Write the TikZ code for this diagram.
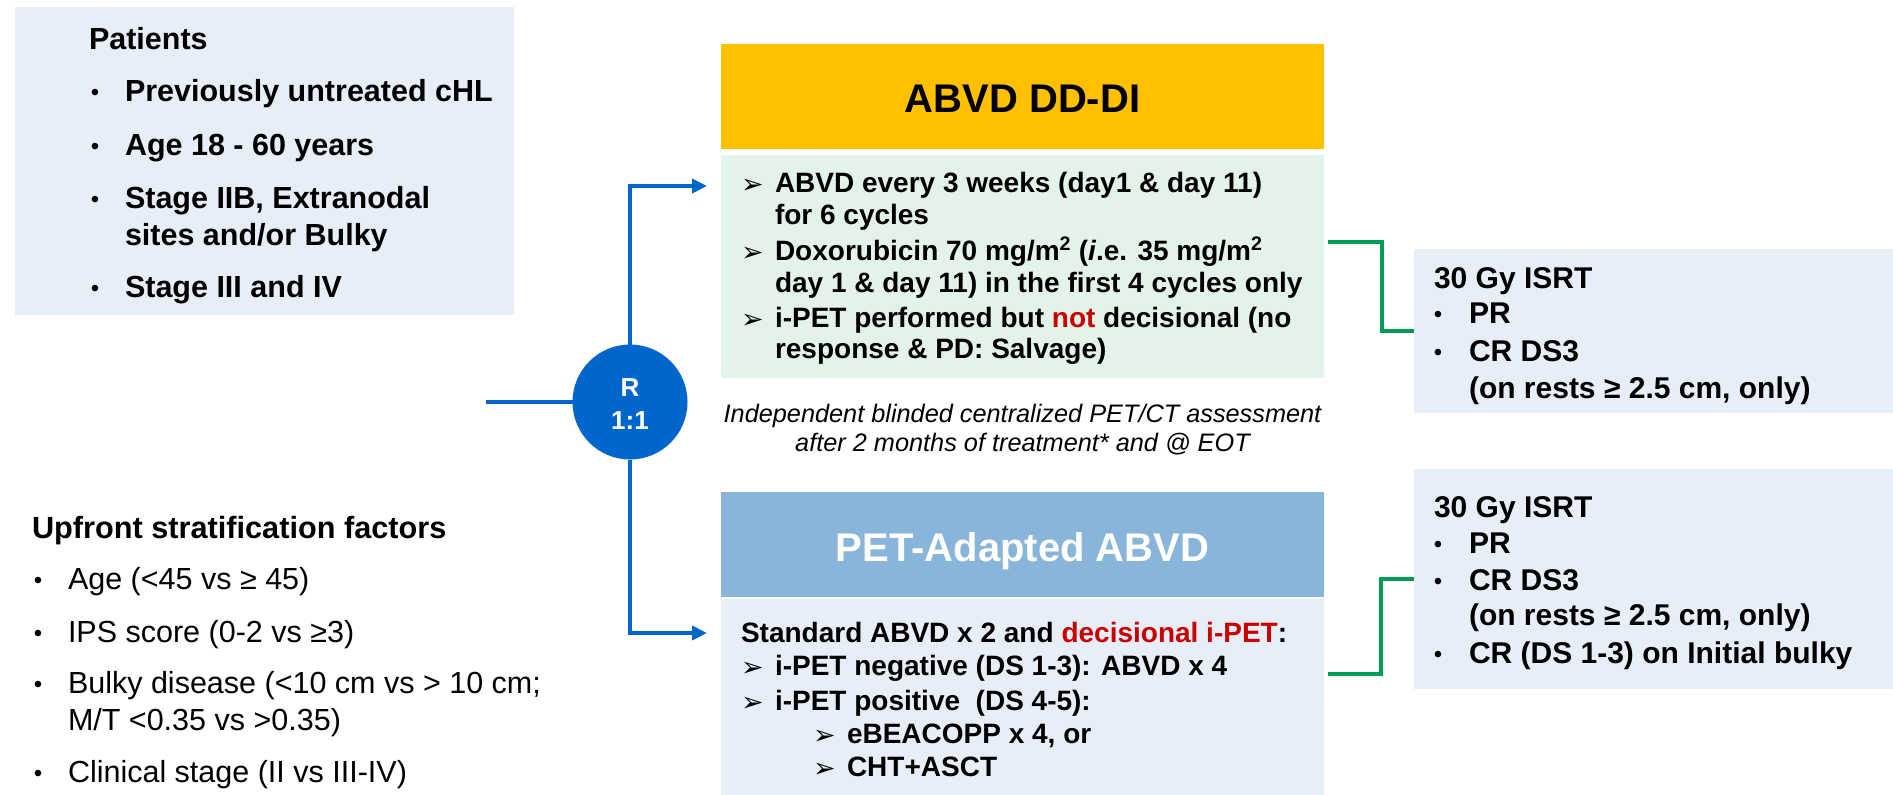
\documentclass[tikz,border=0pt]{standalone}
\usepackage{fontspec}
\setmainfont{Liberation Sans}
\newfontfamily\djv{DejaVu Sans}
\usetikzlibrary{arrows.meta}
\definecolor{boxblue}{RGB}{231,238,247}
\definecolor{greenbox}{RGB}{228,243,234}
\definecolor{orangebox}{RGB}{255,192,0}
\definecolor{pethead}{RGB}{136,181,217}
\definecolor{rblue}{RGB}{0,102,204}
\definecolor{tred}{RGB}{200,0,0}
\definecolor{lgreen}{RGB}{0,155,85}
\newcommand\fP{\fontsize{30.5}{36}\selectfont\bfseries}
\newcommand\fT{\fontsize{40}{48}\selectfont\bfseries}
\newcommand\fG{\fontsize{28}{33}\selectfont\bfseries}
\newcommand\fI{\fontsize{25.3}{30}\selectfont\itshape}
\newcommand\fS{\fontsize{30}{36}\selectfont\bfseries}
\newcommand\fU{\fontsize{30.7}{36}\selectfont\bfseries}
\newcommand\fV{\fontsize{30.5}{36}\selectfont}
\newcommand\fB{\fontsize{24}{30}\selectfont}
\newcommand\fR{\fontsize{26}{32}\selectfont\bfseries}
\newcommand\fArr{\fontsize{27}{30}\selectfont\djv}
\begin{document}
\begin{tikzpicture}[x=1pt,y=-1pt,
  boxn/.style={draw=none,inner sep=0pt,outer sep=0pt,anchor=north west},
  ln/.style={anchor=base west,inner sep=0pt,outer sep=0pt},
  ctr/.style={anchor=base,inner sep=0pt,outer sep=0pt},
  bul/.style={anchor=base,inner sep=0pt,outer sep=0pt,font=\fB},
  arr/.style={anchor=base west,inner sep=0pt,outer sep=0pt,font=\fArr},
  bl/.style={draw=rblue,line width=4pt,-{Triangle[length=15pt,width=14pt]}},
  bl0/.style={draw=rblue,line width=4pt},
  gl/.style={draw=lgreen,line width=4pt},
]
\useasboundingbox[fill=white] (0,0) rectangle (1893,795);

% ---------- boxes ----------
\node[boxn,fill=boxblue,minimum width=499pt,minimum height=308pt] (pat) at (15,7) {};
\node[boxn,fill=orangebox,minimum width=603pt,minimum height=105pt] (abvd) at (721,44) {};
\node[boxn,fill=greenbox,minimum width=603pt,minimum height=223pt] (green) at (721,155) {};
\node[boxn,fill=pethead,minimum width=603pt,minimum height=105pt] (pethd) at (721,492) {};
\node[boxn,fill=boxblue,minimum width=603pt,minimum height=196pt] (petbody) at (721,599) {};
\node[boxn,fill=boxblue,minimum width=479pt,minimum height=164pt] (rb1) at (1414,249) {};
\node[boxn,fill=boxblue,minimum width=479pt,minimum height=220pt] (rb2) at (1414,469) {};
\node[circle,fill=rblue,minimum size=115pt,inner sep=0pt,outer sep=0pt] (R) at (630,402) {};

% ---------- patients ----------
\node[ln,font=\fP] (pt0) at (89,49) {Patients};
\node[bul] (pb1) at (95,100) {•};
\node[bul] (pb2) at (95,154) {•};
\node[bul] (pb3) at (95,207) {•};
\node[bul] (pb4) at (95,296) {•};
\node[ln,font=\fP] (p1) at (125,101) {Previously untreated cHL};
\node[ln,font=\fP] (p2) at (125,155) {Age 18 - 60 years};
\node[ln,font=\fP] (p3) at (125,208) {Stage IIB, Extranodal};
\node[ln,font=\fP] (p3b) at (125,245) {sites and/or Bulky};
\node[ln,font=\fP] (p4) at (125,297) {Stage III and IV};

% ---------- stratification ----------
\node[ln,font=\fU] (s0) at (32,538) {Upfront stratification factors};
\node[bul] (sb1) at (38,588) {•};
\node[bul] (sb2) at (38,641) {•};
\node[bul] (sb3) at (38,692) {•};
\node[bul] (sb4) at (38,781) {•};
\node[ln,font=\fV] (s1) at (68,589) {Age (<45 vs ≥ 45)};
\node[ln,font=\fV] (s2) at (68,642) {IPS score (0-2 vs ≥3)};
\node[ln,font=\fV] (s3) at (68,693) {Bulky disease (<10 cm vs > 10 cm;};
\node[ln,font=\fV] (s3b) at (68,730) {M/T <0.35 vs >0.35)};
\node[ln,font=\fV] (s4) at (68,782) {Clinical stage (II vs III-IV)};

% ---------- R circle ----------
\node[ctr,font=\fR,text=white] (Rt1) at (630,396) {R};
\node[ctr,font=\fR,text=white] (Rt2) at (630,429) {1:1};

% ---------- ABVD DD-DI ----------
\node[ctr,font=\fT] (abvdt) at (1022.5,112) {ABVD DD-DI};
\node[arr] (ga1) at (741,193) {➢};
\node[arr] (ga2) at (741,261) {➢};
\node[arr] (ga3) at (741,328) {➢};
\node[ln,font=\fG] (g1) at (775,192) {ABVD every 3 weeks (day1 \& day 11)};
\node[ln,font=\fG] (g2) at (775,224) {for 6 cycles};
\node[ln,font=\fG] (g3) at (775,260) {Doxorubicin 70 mg/m\textsuperscript{2} (\textit{i}.e. 35 mg/m\textsuperscript{2}};
\node[ln,font=\fG] (g4) at (775,292) {day 1 \& day 11) in the first 4 cycles only};
\node[ln,font=\fG] (g5) at (775,327) {i-PET performed but \textcolor{tred}{not} decisional (no};
\node[ln,font=\fG] (g6) at (775,358) {response \& PD: Salvage)};

% ---------- note ----------
\node[ctr,font=\fI] (n1) at (1022.5,422) {Independent blinded centralized PET/CT assessment};
\node[ctr,font=\fI] (n2) at (1022.5,451) {after 2 months of treatment* and @ EOT};

% ---------- PET-adapted ----------
\node[ctr,font=\fT,text=white] (pett) at (1022.5,561) {PET-Adapted ABVD};
\node[ln,font=\fG] (q1) at (741,642) {Standard ABVD x 2 and \textcolor{tred}{decisional i-PET}:};
\node[arr] (qa2) at (741,676) {➢};
\node[arr] (qa3) at (741,711) {➢};
\node[arr] (qa4) at (813,744) {➢};
\node[arr] (qa5) at (813,777) {➢};
\node[ln,font=\fG] (q2) at (775,675) {i-PET negative (DS 1-3): ABVD x 4};
\node[ln,font=\fG] (q3) at (775,710) {i-PET positive\ \ (DS 4-5):};
\node[ln,font=\fG] (q4) at (847,743) {eBEACOPP x 4, or};
\node[ln,font=\fG] (q5) at (847,776) {CHT+ASCT};

% ---------- right box 1 ----------
\node[ln,font=\fS] (r10) at (1434,288) {30 Gy ISRT};
\node[bul] (r1b1) at (1438,322) {•};
\node[bul] (r1b2) at (1438,360) {•};
\node[ln,font=\fS] (r11) at (1469,323) {PR};
\node[ln,font=\fS] (r12) at (1469,361) {CR DS3};
\node[ln,font=\fS] (r13) at (1469,398) {(on rests ≥ 2.5 cm, only)};

% ---------- right box 2 ----------
\node[ln,font=\fS] (r20) at (1434,517) {30 Gy ISRT};
\node[bul] (r2b1) at (1438,552) {•};
\node[bul] (r2b2) at (1438,589) {•};
\node[bul] (r2b3) at (1438,662) {•};
\node[ln,font=\fS] (r21) at (1469,553) {PR};
\node[ln,font=\fS] (r22) at (1469,590) {CR DS3};
\node[ln,font=\fS] (r23) at (1469,625) {(on rests ≥ 2.5 cm, only)};
\node[ln,font=\fS] (r24) at (1469,663) {CR (DS 1-3) on Initial bulky};

% ---------- connectors ----------
\coordinate (inp) at (486,402);
\coordinate (t1) at (707,186);
\coordinate (t2) at (707,633);
\draw[bl0] (inp) -- (R.west);
\draw[bl] (R.north) |- (t1);
\draw[bl] (R.south) |- (t2);

\coordinate (ga) at ([xshift=4pt,yshift=24.5pt]green.east);
\coordinate (gb) at (1382,242);
\draw[gl] (ga) -- (gb) |- (rb1.west);
\coordinate (pa) at ([xshift=4pt,yshift=23pt]petbody.east);
\coordinate (pb) at (1381,674);
\draw[gl] (pa) -- (pb) |- (rb2.west);
\end{tikzpicture}
\end{document}
